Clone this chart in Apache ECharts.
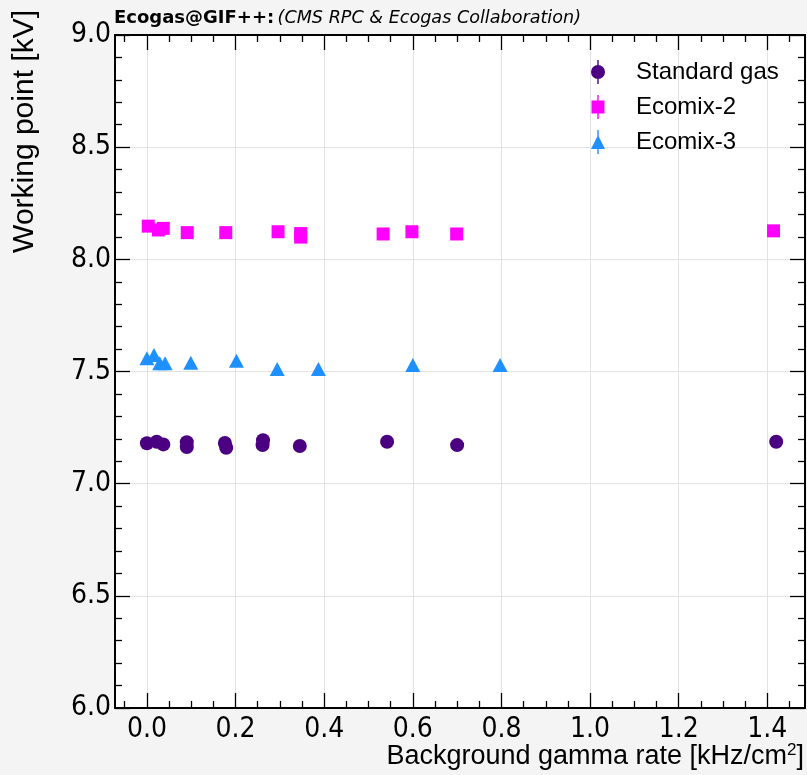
<!DOCTYPE html>
<html>
<head>
<meta charset="utf-8">
<script src="https://cdn.jsdelivr.net/npm/echarts@6/dist/echarts.min.js"></script>
<style>html,body{margin:0;padding:0;background:#f4f4f4;}#c{width:807px;height:775px;}</style>
</head>
<body>
<div id="c"></div>
<script>
// ---- data ----
const seriesNames = ['Standard gas', 'Ecomix-2', 'Ecomix-3'];
const stdX = [0.000, 0.022, 0.037, 0.090, 0.090, 0.176, 0.179, 0.262, 0.261, 0.345, 0.542, 0.700, 1.420];
const stdY = [7.180, 7.187, 7.175, 7.185, 7.163, 7.181, 7.160, 7.194, 7.172, 7.168, 7.187, 7.172, 7.187];
const eco2X = [0.003, 0.026, 0.037, 0.091, 0.178, 0.296, 0.347, 0.347, 0.533, 0.598, 0.699, 1.414];
const eco2Y = [8.148, 8.131, 8.138, 8.119, 8.119, 8.123, 8.115, 8.099, 8.113, 8.123, 8.113, 8.127];
const eco3X = [0.000, 0.016, 0.029, 0.041, 0.099, 0.202, 0.294, 0.387, 0.600, 0.797];
const eco3Y = [7.559, 7.573, 7.537, 7.537, 7.539, 7.548, 7.511, 7.511, 7.529, 7.529];
const xMajorTicks = [0.0, 0.2, 0.4, 0.6, 0.8, 1.0, 1.2, 1.4];
const xMinorTicks = [-0.05, 0.05, 0.1, 0.15, 0.25, 0.3, 0.35, 0.45, 0.5, 0.55, 0.65, 0.7, 0.75, 0.85, 0.9, 0.95, 1.05, 1.1, 1.15, 1.25, 1.3, 1.35, 1.45];
const X_MIN = -0.072, X_MAX = 1.485;
const Y_MIN = 6.0, Y_MAX = 9.0, Y_STEP = 0.5;

const zip = (xs, ys) => xs.map((x, i) => [x, ys[i]]);
const colors = ['#4b0082', '#ff00ff', '#1e90ff'];
const tickFont = '"Liberation Sans Narrow", "Arial Narrow", "DejaVu Sans Condensed", sans-serif';
const AX = '#000';

function xAx(pos, vals, len, showLabel, showSplit, showLine) {
  return {
    type: 'value', position: pos, min: X_MIN, max: X_MAX, splitNumber: 8,
    axisLine: { show: showLine, onZero: false, lineStyle: { color: AX, width: 2 } },
    axisTick: { show: true, inside: true, length: len, customValues: vals, lineStyle: { color: AX, width: 1.3 } },
    axisLabel: showLabel ? { show: true, customValues: xMajorTicks, margin: 8, color: '#000', fontSize: 28, fontFamily: tickFont, formatter: v => v.toFixed(1) } : { show: false },
    splitLine: { show: showSplit, lineStyle: { color: '#e2e2e2', width: 1 } },
    minorTick: { show: false }
  };
}
function yAx(pos, showLabel, showSplit) {
  return {
    type: 'value', position: pos, min: Y_MIN, max: Y_MAX, interval: Y_STEP,
    axisLine: { show: true, onZero: false, lineStyle: { color: AX, width: 2 } },
    axisTick: { show: true, inside: true, length: 15, lineStyle: { color: AX, width: 1.3 } },
    minorTick: { show: true, splitNumber: 5, length: 7, lineStyle: { color: AX, width: 1.3 } },
    axisLabel: showLabel ? { show: true, margin: 4, color: '#000', fontSize: 28, fontFamily: tickFont, formatter: v => v.toFixed(1) } : { show: false },
    splitLine: { show: showSplit, lineStyle: { color: '#e2e2e2', width: 1 } }
  };
}

const legendIcons = [
  'path://M6.3,0h1.4v24h-1.4z M7,5a7,7 0 1,1 -0.001,0z',
  'path://M6.3,0h1.4v24h-1.4z M0.5,5.5h13v13h-13z',
  'path://M6.3,0h1.4v24h-1.4z M7,5L14,19L0,19z'
];
const symbols = ['circle', 'rect', 'triangle'];
const symbolSizes = [14, 13, [15, 14]];
const datasets = [zip(stdX, stdY), zip(eco2X, eco2Y), zip(eco3X, eco3Y)];

const chart = echarts.init(document.getElementById('c'), null, { renderer: 'canvas' });
chart.setOption({
  backgroundColor: '#f4f4f4',
  animation: false,
  grid: { left: 115, right: 2, top: 35, bottom: 67, show: true, backgroundColor: '#ffffff', borderWidth: 0 },
  xAxis: [
    xAx('bottom', xMajorTicks, 15, true, true, true),
    xAx('bottom', xMinorTicks, 7, false, false, false),
    xAx('top', xMajorTicks, 15, false, false, true),
    xAx('top', xMinorTicks, 7, false, false, false)
  ],
  yAxis: [yAx('left', true, true), yAx('right', false, false)],
  legend: {
    orient: 'vertical', left: 586, top: 55, itemWidth: 14, itemHeight: 24, itemGap: 11,
    textStyle: { fontSize: 24, color: '#000', fontFamily: '"Liberation Sans", Arial, sans-serif', padding: [0, 0, 0, 26] },
    data: seriesNames.map((n, i) => ({ name: n, icon: legendIcons[i] }))
  },
  graphic: [
    {
      type: 'text', left: 114, top: 9,
      style: {
        text: '{b|Ecogas@GIF++:} {i|(CMS RPC & Ecogas Collaboration)}',
        rich: {
          b: { fontFamily: '"DejaVu Sans"', fontWeight: 'bold', fontSize: 18, fill: '#000' },
          i: { fontFamily: '"DejaVu Sans"', fontStyle: 'italic', fontSize: 17.6, fill: '#000' }
        }
      }
    },
    {
      type: 'text', x: 25, y: 10, rotation: Math.PI / 2,
      style: { text: 'Working point [kV]', align: 'right', verticalAlign: 'middle', fontSize: 30, fontFamily: '"Liberation Sans", Arial, sans-serif', fill: '#000' }
    },
    {
      type: 'text', right: 3, top: 742,
      style: {
        text: '{a|Background gamma rate [kHz/cm}{s|2}{a|]}',
        rich: {
          a: { fontSize: 27, fontFamily: '"Liberation Sans", Arial, sans-serif', fill: '#000' },
          s: { fontSize: 17, fontFamily: '"Liberation Sans", Arial, sans-serif', fill: '#000', verticalAlign: 'top', padding: [0, 0, 12, 0] }
        }
      }
    }
  ],
  series: seriesNames.map((n, i) => ({
    name: n, type: 'scatter', xAxisIndex: 0, yAxisIndex: 0,
    symbol: symbols[i], symbolSize: symbolSizes[i],
    itemStyle: { color: colors[i], opacity: 1 },
    data: datasets[i]
  }))
});
</script>
</body>
</html>
